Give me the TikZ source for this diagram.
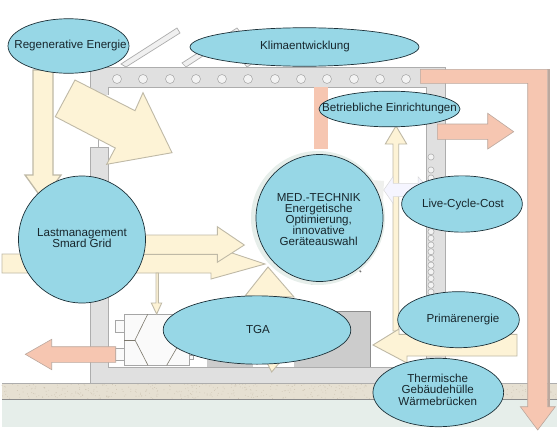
\documentclass[tikz,border=0pt]{standalone}
\usepackage{fontspec}
\setmainfont{Liberation Sans}
\usetikzlibrary{shapes.geometric}
\definecolor{bub}{HTML}{97D7E6}
\definecolor{bubline}{HTML}{1C3038}
\definecolor{txt}{HTML}{17262C}
\definecolor{yel}{HTML}{FDF3D6}
\definecolor{yelline}{HTML}{BFB9A6}
\definecolor{red1}{HTML}{F6C6B1}
\definecolor{redline}{HTML}{BBA89E}
\definecolor{wall}{HTML}{E0E0E0}
\definecolor{wallline}{HTML}{ADADAD}
\definecolor{tan1}{HTML}{E6E0D2}
\definecolor{tan2}{HTML}{CFC6B4}
\definecolor{soil}{HTML}{E6EEEA}
\tikzset{
  bubble/.style={ellipse,draw=bubline,line width=0.7pt,fill=bub,inner sep=0pt},
  bubtext/.style={align=center,text=txt,inner sep=0pt,font=\fontsize{11.6}{11.2}\selectfont},
  yarrow/.style={fill=yel,draw=yelline,line width=0.9pt,line join=miter},
  rarrow/.style={fill=red1,draw=redline,line width=0.6pt},
  wallpart/.style={fill=wall,draw=wallline,line width=0.7pt},
  hole/.style={circle,draw=wallline,fill=white!60!wall,line width=0.6pt,minimum size=9pt,inner sep=0pt},
  smallhole/.style={circle,draw=wallline,fill=white!60!wall,line width=0.6pt,minimum size=6.2pt,inner sep=0pt},
  panel/.style={fill=black!6,draw=wallline,line width=0.7pt},
  mach/.style={fill=black!2,draw=black!35,line width=0.6pt},
  machline/.style={draw=black!35!yelline,line width=0.6pt},
  block/.style={fill=black!20,draw=none}
}
\begin{document}
\begin{tikzpicture}[x=1pt,y=-1pt]
\useasboundingbox (0,0) rectangle (557,431);
\fill[white] (0,0) rectangle (557,431);
% ground
\fill[soil] (2,399) rectangle (557,427);
\fill[tan1] (2,383) rectangle (557,399);
\pgfmathsetseed{7}
\foreach \k in {1,...,500}{
  \pgfmathsetmacro{\sx}{2+555*rnd}
  \pgfmathsetmacro{\sy}{383.6+15*rnd}
  \fill[tan2] (\sx,\sy) circle (0.45);
}
\draw[wallline,line width=0.7pt] (2,383) -- (557,383);
\draw[black!45,line width=0.6pt] (2,399) -- (557,399);
% panels
\draw[panel] (121,64) -- (126,67) -- (180,33) -- (177,28) -- cycle;
\draw[panel] (182,63) -- (186,67) -- (240,32) -- (237,28) -- cycle;
\draw[panel] (243,62) -- (247,67) -- (300,33) -- (296,28) -- cycle;
% building
\draw[wallpart] (90,67) -- (445,67) -- (445,372) -- (426,372) -- (426,87) -- (108,87) -- (108,367) -- (426,367) -- (426,383) -- (90,383) -- cycle;
\fill[white] (88,95) rectangle (110,147);
\draw[wallline,line width=0.7pt] (98,138) -- (98,147);
\draw[wallpart] (90,147) rectangle (108,190);
\foreach \hx/\hn in {117/a,143/b,170/c,196/d,222/e,248/f,275/g,301/h,327/i,354/j,380/k,406/l}
  \node[hole] (top\hn) at (\hx,79) {};
\foreach \hy [count=\hi] in {157,170,178,184.7,191.4,198.1,204.8,211.5,218.2,224.9,231.6,238.3,245,251.7,258.4,265.1,271.8,278.5,285.2,292}
  \node[smallhole] (side\hi) at (431,\hy) {};
% machine
\fill[block] (206.7,320) rectangle (253,367);
\fill[block] (294,311.7) rectangle (370.3,367);
\draw[black!45,line width=0.5pt] (294,311.7) -- (370.3,311.7) -- (370.3,367);
\draw[mach] (115.7,320.7) rectangle (124.3,332.3);
\draw[mach] (115.7,348) rectangle (124.3,360.7);
\draw[mach] (189,355) rectangle (193,359);
\draw[mach] (124.3,314.3) rectangle (189,365.3);
\draw[machline] (147.7,314.3) -- (135,340) -- (148,365.3);
\draw[machline] (124.3,340) -- (135,340);
\draw[machline] (166.7,365.3) -- (176.7,348);
\draw[machline] (176,314.3) -- (188,335);
% halo and small parts behind MED
\draw[black!40,line width=0.8pt] (314,278) circle (6.5);
\draw[black!55,line width=1.4pt] (358,269) -- (361,272);
\fill[soil] (318,218) circle (67);
% yellow-green patch
\fill[yellow!35!green!20!black!8!white] (371,180) -- (384,181) -- (383,201) -- (376,201) -- cycle;
% yellow arrows
\draw[yarrow,line width=1.3pt] (33,70) -- (53,70) -- (53,175) -- (61,175) -- (43,200) -- (25,175) -- (33,175) -- cycle;
\draw[yarrow] (75,80) -- (135,110.7) -- (143,92.7) -- (172,152.7) -- (106.7,164.3) -- (115.3,148) -- (55.3,116.7) -- cycle;
\draw[yarrow] (2,254) -- (219,254) -- (232,253) -- (265,264) -- (211,279) -- (211,273) -- (2,273) -- cycle;
\draw[yarrow] (140,235) -- (217.3,235) -- (217.3,226.7) -- (244.3,245) -- (217.3,262.3) -- (217.3,254.3) -- (140,254.3) -- cycle;
\draw[yarrow] (268,267) -- (245,296) -- (294,297) -- cycle;
\draw[yarrow] (266.7,362) -- (271.7,372) -- (280,362) -- cycle;
\draw[yarrow] (156,273) -- (158.3,273) -- (158.3,303) -- (161.7,303) -- (156.7,314) -- (151.3,303) -- (156,303) -- cycle;
\draw[yarrow] (393,144) -- (385.3,144) -- (396,126) -- (406.7,144) -- (398.7,144) -- (398.7,331) -- (393,331) -- cycle;
% pale double arrow
\draw[fill=blue!4!white,draw=black!15,line width=0.5pt] (383.7,190) -- (393,176.7) -- (393,183.3) -- (418,183.3) -- (418,176.7) -- (430,190) -- (418,203.3) -- (418,196.7) -- (393,196.7) -- (393,203.3) -- cycle;
\draw[yarrow] (373,345) -- (399,329) -- (399,334.3) -- (517,334.3) -- (517,356) -- (407,356) -- (407,363) -- cycle;
% red arrows
\draw[rarrow] (25.3,354.3) -- (51.7,339.3) -- (51.7,346.7) -- (115.7,346.7) -- (115.7,362.3) -- (51.7,362.3) -- (51.7,369.7) -- cycle;
\fill[red1] (313.7,87) rectangle (327.7,149);
\draw[rarrow] (437.3,124) -- (487.7,124) -- (487.7,113.3) -- (513.7,131.7) -- (487.7,149) -- (487.7,139.3) -- (437.3,139.3) -- cycle;
\fill[redline] (547.7,69.3) rectangle (549.6,406.7);
\draw[rarrow] (420.3,69.3) -- (547.7,69.3) -- (547.7,406.7) -- (555.3,406.7) -- (537.7,430) -- (520.3,406.7) -- (527.7,406.7) -- (527.7,83.3) -- (420.3,83.3) -- cycle;
% bubbles
\node[bubble,minimum width=121pt,minimum height=54.5pt] (reg) at (68.5,46) {};
\node[bubtext] at (70.5,45.5) {Regenerative Energie};
\node[bubble,minimum width=229pt,minimum height=38.5pt] (klima) at (304.5,47) {};
\node[bubtext] at (305,47) {Klimaentwicklung};
\node[bubble,minimum width=141pt,minimum height=35.7pt] (betr) at (389.5,109) {};
\node[bubtext] at (389.5,108.5) {Betriebliche Einrichtungen};
\node[bubble,minimum width=127pt,minimum height=127pt] (last) at (82,239.5) {};
\node[bubtext] at (82,238) {Lastmanagement\\Smard Grid};
\node[bubble,minimum width=127pt,minimum height=127pt] (med) at (319.5,218) {};
\node[bubtext] at (318.7,219.5) {MED.-TECHNIK\\Energetische\\Optimierung,\\innovative\\Geräteauswahl};
\node[bubble,minimum width=120.7pt,minimum height=56.3pt] (live) at (462,204) {};
\node[bubtext] at (463,204) {Live-Cycle-Cost};
\node[bubble,minimum width=187.7pt,minimum height=68.3pt] (tga) at (257,330) {};
\node[bubtext] at (258,330) {TGA};
\node[bubble,minimum width=121.6pt,minimum height=56pt] (prim) at (458.5,319.7) {};
\node[bubtext] at (463,319) {Primärenergie};
\node[bubble,minimum width=130.7pt,minimum height=68.4pt] (therm) at (438.3,392.5) {};
\node[bubtext] at (437.7,389.7) {Thermische\\Gebäudehülle\\Wärmebrücken};
\end{tikzpicture}
\end{document}
